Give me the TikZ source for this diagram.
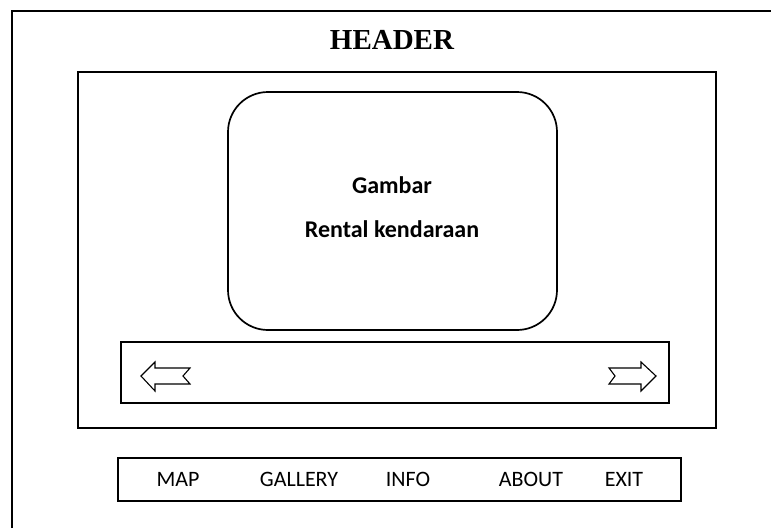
\documentclass[tikz,border=0pt]{standalone}
\usepackage{fontspec}
\setmainfont{Liberation Serif}
\newfontfamily\calibri{Carlito}
\usetikzlibrary{positioning}

\begin{document}
\begin{tikzpicture}[x=1pt, y=-1pt,
  frame/.style={draw=black, line width=1.7pt, inner sep=0pt},
  screen/.style={frame, rounded corners=40pt, minimum width=329pt,
                 minimum height=238pt},
  caption/.style={font=\calibri\bfseries\fontsize{24}{28}\selectfont},
  menuitem/.style={font=\calibri\fontsize{22}{26}\selectfont, inner sep=0pt},
  navarrow/.style={draw=black, line width=1.1pt, line join=miter},
]
  \useasboundingbox (0,0) rectangle (771,528);

  % page border (runs off the right and bottom)
  \draw[line width=2pt] (12,528) |- (771,11);
  \node[font=\bfseries\fontsize{29}{34}\selectfont] (header) at (392,40) {HEADER};

  % slideshow panel
  \node[frame, minimum width=638pt, minimum height=356pt] (panel) at (397,250) {};
  \node[screen] (picture) at (392.5,211) {};
  \node[caption] (gambar) at (392,185) {Gambar};
  \node[caption] (rental) at (392,229) {Rental kendaraan};

  \node[frame, minimum width=548pt, minimum height=61pt] (slider) at (395,372.5) {};
  % previous / next
  \draw[navarrow] (141,376) -- (155,362) -- (155,368) -- (190,368) -- (183,376)
    -- (190,384) -- (155,384) -- (155,391) -- cycle;
  \draw[navarrow] (656,376) -- (641,362) -- (641,368) -- (609,368) -- (615,376)
    -- (609,384) -- (641,384) -- (641,391) -- cycle;

  % menu bar
  \node[frame, line width=2.3pt, minimum width=563pt, minimum height=43pt] (menu) at (399.5,479.5) {};
  \node[menuitem] (map) at (178,479) {MAP};
  \node[menuitem] (gallery) at (299,479) {GALLERY};
  \node[menuitem] (info) at (408,479) {INFO};
  \node[menuitem] (about) at (531,479) {ABOUT};
  \node[menuitem] (exit) at (624,479) {EXIT};
\end{tikzpicture}
\end{document}
